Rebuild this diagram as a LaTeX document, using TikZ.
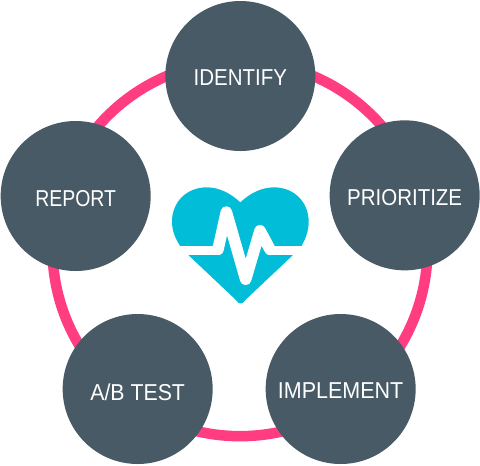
\documentclass[tikz,border=0pt]{standalone}
\usepackage{graphicx}
\usepackage{fontspec}
\setmainfont[FakeStretch=0.89]{Liberation Sans}
\definecolor{slate}{HTML}{475A66}
\definecolor{rose}{HTML}{FF3D80}
\definecolor{aqua}{HTML}{02BDD8}
\tikzset{
  stage/.style={circle,fill=slate,text=white,minimum size=150pt,inner sep=0pt,
    font=\fontsize{23}{23}\selectfont,text height=16.5pt,text depth=0pt},
  loopring/.style={circle,draw=rose,line width=10.5pt,minimum size=375pt,inner sep=0pt},
}
\begin{document}
\begin{tikzpicture}[x=0.33333pt,y=-0.33333pt]
\useasboundingbox (0,0) rectangle (1440,1395);
\node[loopring] (ring) at (720,746) {};
\node[stage,text height=18pt] (identify) at (721,228) {IDENTIFY};
\node[stage,text height=19.5pt] (prioritize) at (1214,586) {PRIORITIZE};
\node[stage,text height=19.5pt] (implement) at (1022,1167) {\scalebox{1.05}[1]{IMPLEMENT}};
\node[stage,text height=22.5pt] (abtest) at (413,1167) {\scalebox{1.04}[1]{A/B TEST}};
\node[stage,text height=20.5pt] (report) at (227,588) {\scalebox{0.95}[1]{REPORT}};
% heart: one silhouette, the pulse line cut out in white
\fill[aqua] (721,607) .. controls (690,578) and (655,562) .. (620,562)
  .. controls (560,562) and (516,606) .. (516,665)
  .. controls (516,692) and (526,716) .. (540,737)
  -- (565,765) -- (708,900) .. controls (716,914) and (728,914) .. (736,900) -- (879,765)
  -- (905,737)
  .. controls (917,716) and (926,692) .. (926,665)
  .. controls (926,606) and (882,562) .. (822,562)
  .. controls (787,562) and (752,578) .. (721,607) -- cycle;
\draw[white,line width=9.3pt,line join=round]
  (530,751) -- (652,751) -- (660,751);
\draw[white,line width=9.3pt,line join=round]
  (806,751) -- (915,751);
\draw[white,line width=11.5pt,line join=round,line cap=round]
  (654,748) -- (679,636) -- (737,838) -- (780,692) -- (810,748);
\end{tikzpicture}
\end{document}
